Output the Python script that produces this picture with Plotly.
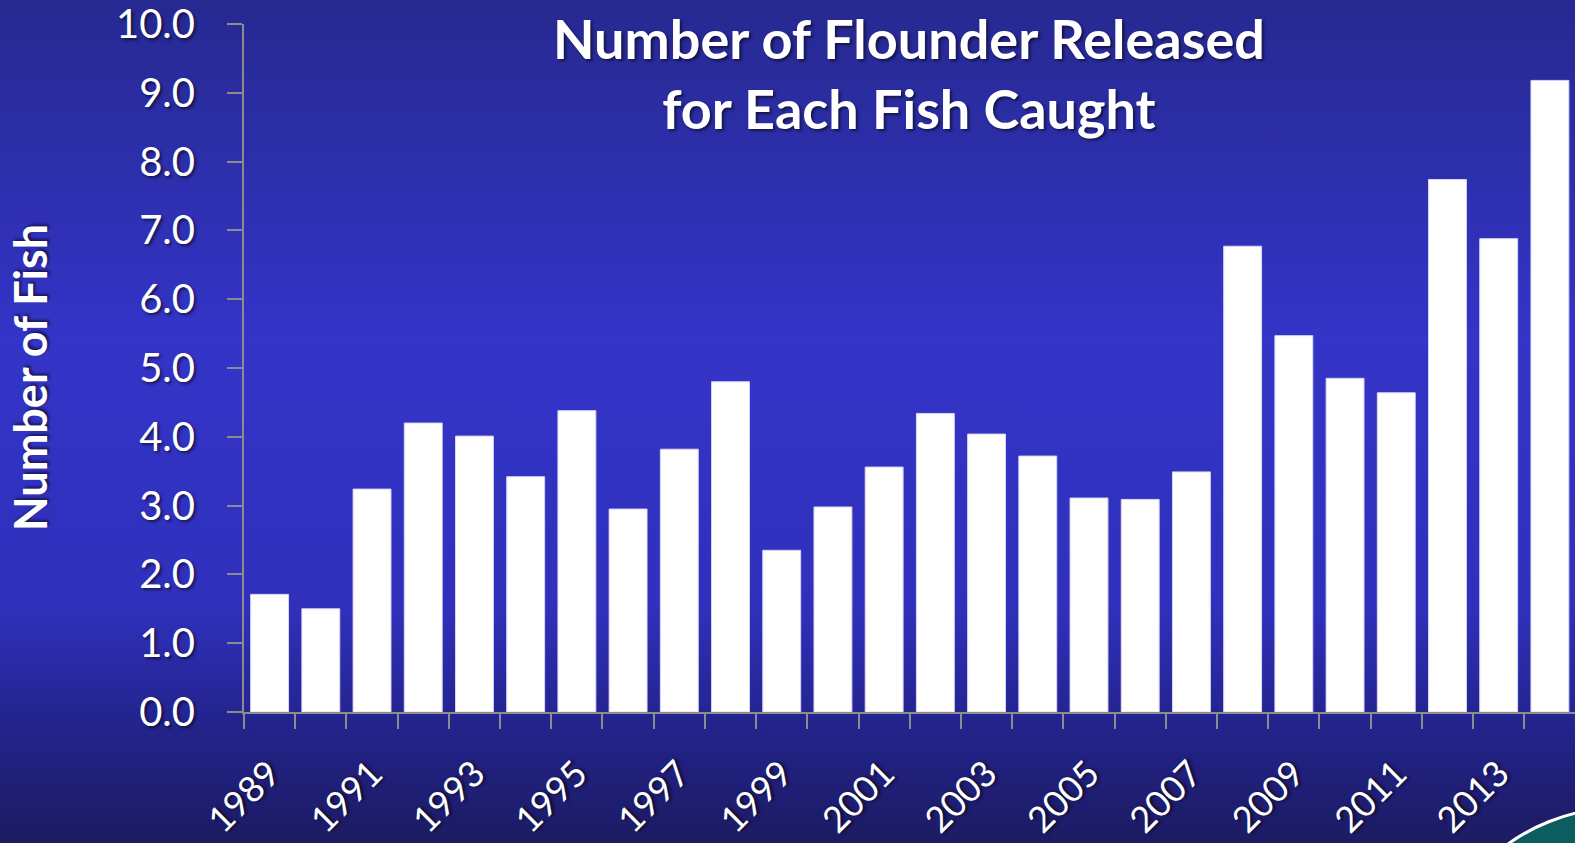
import base64
import plotly.graph_objects as go

years = [str(y) for y in range(1989, 2015)]
released_per_caught = [1.71, 1.50, 3.24, 4.20, 4.01, 3.42, 4.38, 2.95, 3.82, 4.80,
                       2.35, 2.98, 3.56, 4.34, 4.04, 3.72, 3.11, 3.09, 3.49, 6.77,
                       5.47, 4.85, 4.64, 7.74, 6.88, 9.18]
tick_text = [y if (int(y) - 1989) % 2 == 0 else "" for y in years]
y_ticks = [0, 1, 2, 3, 4, 5, 6, 7, 8, 9, 10]
y_tick_text = [f"{v:.1f}" for v in y_ticks]

W, H = 1575, 843
ML, MR, MT, MB = 244, 0, 24, 131
PW, PH = W - ML - MR, H - MT - MB

FONT = "Lato"
SHADOW = "2px 2px 3px rgba(0,0,0,0.55)"
AX = "#8c8c8c"

svg = f'''<svg xmlns="http://www.w3.org/2000/svg" width="{W}" height="{H}" preserveAspectRatio="none">
<defs><linearGradient id="g" x1="0" y1="0" x2="0" y2="1">
<stop offset="0" stop-color="#262990"/>
<stop offset="0.40" stop-color="#3434c8"/>
<stop offset="0.72" stop-color="#3030bc"/>
<stop offset="0.86" stop-color="#23238c"/>
<stop offset="1" stop-color="#1c1b62"/>
</linearGradient></defs>
<rect width="{W}" height="{H}" fill="url(#g)"/>
</svg>'''
bg_uri = "data:image/svg+xml;base64," + base64.b64encode(svg.encode()).decode()


def px(xp):
    return (xp - ML) / PW


def py(yp):
    return (H - MB - yp) / PH


fig = go.Figure(go.Bar(
    x=years, y=released_per_caught,
    marker=dict(color="white", line=dict(color="#d6d6f4", width=1)),
    hoverinfo="x+y",
))

fig.update_layout(
    width=W, height=H,
    margin=dict(l=ML, r=MR, t=MT, b=MB, pad=0, autoexpand=False),
    paper_bgcolor="#2a2aa8",
    plot_bgcolor="rgba(0,0,0,0)",
    bargap=0.26,
    showlegend=False,
    images=[dict(source=bg_uri, xref="paper", yref="paper",
                 x=-ML / PW, y=1 + MT / PH, sizex=W / PW, sizey=H / PH,
                 xanchor="left", yanchor="top", sizing="stretch", layer="below")],
    xaxis=dict(
        type="category", range=[-0.5, 25.49], automargin=False,
        tickmode="array", tickvals=years, ticktext=tick_text,
        tickson="boundaries", ticks="outside", ticklen=15, tickwidth=2, tickcolor=AX,
        showline=True, linecolor=AX, linewidth=2, showgrid=False, zeroline=False,
        tickangle=-45, ticklabelstandoff=24,
        tickfont=dict(family=FONT, size=36, color="white", shadow=SHADOW),
    ),
    yaxis=dict(
        range=[0, 10.0001], automargin=False,
        tickmode="array", tickvals=y_ticks, ticktext=y_tick_text,
        ticks="outside", ticklen=15, tickwidth=2, tickcolor=AX,
        showline=True, linecolor=AX, linewidth=2, showgrid=False, zeroline=False,
        ticklabelstandoff=24, ticklabeloverflow="allow",
        tickfont=dict(family=FONT, size=40, color="white", shadow=SHADOW),
    ),
    annotations=[
        dict(text="<b>Number of Flounder Released<br>for Each Fish Caught</b>",
             xref="paper", yref="paper", x=px(909), y=py(4),
             xanchor="center", yanchor="top", showarrow=False,
             font=dict(family=FONT, size=54, color="white", shadow=SHADOW)),
        dict(text="<b>Number of Fish</b>", textangle=-90,
             xref="paper", yref="paper", x=px(30), y=py(378),
             xanchor="center", yanchor="middle", showarrow=False,
             font=dict(family=FONT, size=45, color="white", shadow=SHADOW)),
    ],
    shapes=[
        dict(type="circle", xref="paper", yref="paper",
             x0=px(1428), x1=px(1812), y0=py(1192), y1=py(808),
             fillcolor="#0b5d60", line=dict(color="white", width=3), layer="above"),
    ],
)

fig.write_html("out.html", config={"displayModeBar": False},
               post_script="document.body.style.margin='0';document.body.style.overflow='hidden';")
